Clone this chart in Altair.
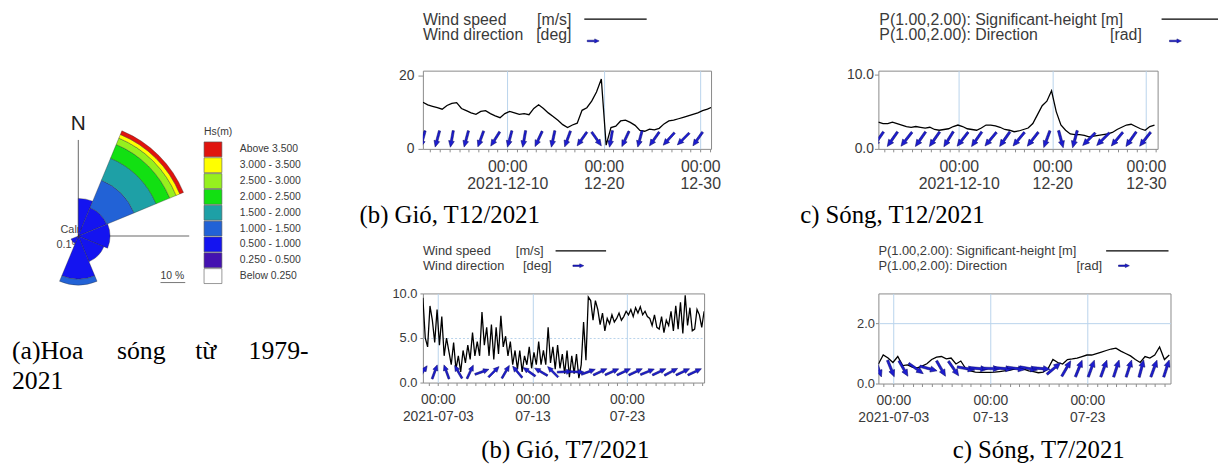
import math
import altair as alt
import pandas as pd

SANS = "Liberation Sans"
SERIF = "Liberation Serif"
TXT = "#3a3a3a"
AXC = "#8c8c8c"
GRID = "#b9d3ec"
BLUE = "#1d1dd0"
BLUE_EDGE = "#08086a"
ARROW = "M-0.13,1L0.13,1L0.13,-0.25L0.34,-0.25L0,-1L-0.34,-0.25L-0.13,-0.25Z"

# ---------------- (a) wave rose data ----------------
hs_bands = ["Above  3.500", "3.000 - 3.500", "2.500 - 3.000", "2.000 - 2.500",
            "1.500 - 2.000", "1.000 - 1.500", "0.500 - 1.000", "0.250 - 0.500", "Below  0.250"]
hs_colors = ["#e0140e", "#ffff00", "#96f01e", "#12e012", "#1ea0a6",
             "#2262d6", "#1414f0", "#4412b0", "#ffffff"]
rose_from = [0.0, 22.5, 67.5, 112.5, 157.5, 202.5]
rose_to = [22.5, 67.5, 112.5, 157.5, 202.5, 247.5]
# frequency (%) per Hs band, from "Below 0.250" upward
rose_freq = [
    [0.0, 0.4, 14.8, 0.0, 0.0, 0.0, 0.0, 0.0, 0.0],
    [0.0, 0.4, 12.0, 12.0, 9.6, 6.0, 2.8, 1.6, 1.6],
    [0.0, 0.4, 12.4, 0.0, 0.0, 0.0, 0.0, 0.0, 0.0],
    [0.0, 0.4, 10.8, 0.0, 0.0, 0.0, 0.0, 0.0, 0.0],
    [0.0, 0.8, 16.6, 2.4, 0.0, 0.0, 0.0, 0.0, 0.0],
    [0.0, 0.4, 2.8, 0.0, 0.0, 0.0, 0.0, 0.0, 0.0],
]
calm_text = ["Calm", "0.1%"]
rose_title = "Hs(m)"
rose_scale_label = "10 %"
rose_caption_words = ["(a)Hoa", "sóng", "từ", "1979-"]
rose_caption_line2 = "2021"

# ---------------- time series data ----------------
wind12_start = "2021-12-01 06:00"
wind12_speed = [12.7, 12.0, 11.6, 11.2, 10.8, 11.8, 12.4, 12.6, 11.0, 10.4,
                9.8, 9.4, 10.2, 10.4, 9.6, 9.0, 8.5, 9.6, 10.2, 9.8,
                9.4, 9.6, 9.3, 11.0, 12.0, 11.0, 9.8, 8.8, 7.8, 6.6,
                5.8, 6.5, 7.0, 10.5, 11.2, 13.0, 15.5, 19.0, 1.0, 5.8,
                6.2, 7.6, 7.8, 7.2, 6.4, 5.0, 4.8, 5.4, 5.2, 5.6,
                6.8, 7.6, 7.8, 8.2, 8.6, 9.0, 9.4, 9.8, 10.4, 10.8, 11.4]
wind12_dir = [195, 195, 190, 195, 200, 212, 195, 190, 205, 192,
              200, 215, 145, 190, 205, 195, 215, 222, 225, 215]

wave12_start = "2021-12-01 10:00"
wave12_hs = [3.6, 3.4, 3.4, 3.6, 3.4, 3.2, 3.0, 2.9, 3.0, 2.9,
             2.8, 2.9, 2.6, 2.5, 2.6, 2.7, 3.0, 3.2, 3.0, 2.7,
             2.6, 2.5, 2.8, 3.2, 3.2, 3.1, 2.9, 2.6, 2.5, 2.3,
             2.4, 2.6, 2.8, 3.4, 4.6, 5.8, 6.4, 7.8, 5.0, 3.2,
             2.5, 2.0, 1.9, 1.9, 1.8, 1.6, 1.7, 1.8, 1.9, 2.0,
             2.2, 2.6, 2.9, 3.2, 3.3, 3.0, 2.7, 2.5, 3.0, 3.2]
wave12_dir = [215, 215, 218, 215, 215, 212, 218, 215, 220, 215,
              220, 218, 200, 165, 195, 225, 225, 220, 215, 218]

wind7_start = "2021-07-01 10:00"
wind7_speed = [9.5, 5.0, 4.0, 8.6, 7.0, 4.5, 8.2, 4.2, 7.4, 3.0, 5.0, 3.5,
               2.0, 4.5, 1.5, 3.0, 1.2, 3.6, 2.2, 4.2, 2.6, 5.6, 3.0, 4.6,
               3.0, 7.9, 4.2, 6.2, 3.0, 6.5, 2.6, 6.2, 3.2, 7.5, 4.0, 5.2,
               3.0, 4.6, 2.0, 3.6, 1.5, 3.6, 1.2, 3.0, 2.0, 4.0, 1.6, 3.4,
               2.0, 4.6, 2.0, 3.6, 2.0, 6.2, 2.2, 4.0, 1.5, 4.2, 1.6, 3.2,
               1.0, 3.6, 0.6, 3.0, 1.0, 3.2, 0.5, 2.0, 6.8, 2.5, 9.6, 9.2,
               7.0, 9.2, 8.2, 6.5, 7.8, 5.8, 7.2, 6.6, 7.6, 6.8, 7.2, 7.8,
               7.0, 7.4, 8.0, 7.6, 8.2, 7.4, 8.4, 7.8, 8.5, 7.6, 8.0, 7.4,
               7.2, 6.4, 7.6, 6.2, 6.0, 7.4, 5.6, 7.0, 6.4, 8.0, 5.8, 8.6,
               6.0, 9.0, 5.5, 9.8, 6.4, 8.4, 5.8, 6.0, 8.2, 7.6, 6.2, 8.0]
wind7_dir = [35, 20, 340, 330, 25, 70, 45, 30, 320, 305, 300, 315,
             88, 92, 70, 65, 66, 65, 65, 68, 65, 62, 65, 65]

wave7_start = "2021-07-01 11:00"
wave7_hs = [0.65, 0.95, 0.85, 0.7, 0.9, 0.6, 0.62, 0.55, 0.52, 0.58,
            0.66, 0.8, 0.88, 0.9, 0.82, 0.85, 0.65, 0.75, 0.5, 0.42,
            0.38, 0.37, 0.37, 0.37, 0.38, 0.4, 0.42, 0.44, 0.48, 0.52,
            0.48, 0.42, 0.4, 0.36, 0.38, 0.5, 0.8, 0.7, 0.65, 0.8,
            0.82, 0.85, 0.9, 0.95, 0.95, 1.0, 1.05, 1.1, 1.15, 1.18,
            1.08, 1.0, 0.92, 0.8, 0.7, 0.9, 0.85, 0.95, 1.22, 0.8, 0.95]
wave7_dir = [160, 158, 150, 125, 105, 150, 145, 100, 95, 92, 95, 98,
             100, 95, 50, 30, 22, 20, 20, 18, 18, 15, 20, 18]

wind_legend = ["Wind speed", "[m/s]", "Wind direction", "[deg]"]
wave_legend = ["P(1.00,2.00): Significant-height [m]", "P(1.00,2.00): Direction", "[rad]"]
captions = ["(b) Gió, T12/2021", "c) Sóng, T12/2021", "(b) Gió, T7/2021", "c) Sóng, T7/2021"]


# ---------------- helpers ----------------
def one():
    return pd.DataFrame({"k": [0]})


def txt(s, x, y, size, align="left", font=SANS, color=TXT, baseline="alphabetic"):
    return alt.Chart(pd.DataFrame({"s": [s]})).mark_text(
        align=align, baseline=baseline, font=font, fontSize=size, color=color
    ).encode(x=alt.value(x), y=alt.value(y), text="s:N")


def rule(x1, x2, y1, y2, color="black", width=1.0, opacity=1.0):
    return alt.Chart(one()).mark_rule(color=color, strokeWidth=width, strokeOpacity=opacity).encode(
        x=alt.value(x1), x2=alt.value(x2), y=alt.value(y1), y2=alt.value(y2))


def arrow_sample(x, y, length):
    return alt.Chart(one()).mark_point(
        shape=ARROW, filled=True, size=length * length, angle=90, fill=BLUE,
        stroke=BLUE_EDGE, strokeWidth=0.5, opacity=1
    ).encode(x=alt.value(x), y=alt.value(y))


def spacer(w):
    return alt.Chart(one()).mark_point(opacity=0).encode(
        x=alt.value(0), y=alt.value(0)).properties(
        width=w, height=1, view=alt.ViewBackground(stroke="transparent"))


def time_axis(month, label_days, year_day, size, pad):
    vals = [alt.DateTime(year=2021, month=month, date=d) for d in range(2, 32)]
    cond = " || ".join(f"date(datum.value) == {d}" for d in label_days)
    expr = (f"date(datum.value) == {year_day} ? ['00:00', timeFormat(datum.value, '%Y-%m-%d')] : "
            f"(({cond}) ? ['00:00', timeFormat(datum.value, '%m-%d')] : '')")
    return alt.Axis(values=vals, tickCount=60, labelExpr=expr, labelFont=SANS, labelFontSize=size,
                    labelColor=TXT, labelLineHeight=17, labelPadding=pad, labelOverlap=False,
                    labelFlush=False, tickSize=3, tickColor=AXC, domain=False, grid=True,
                    gridColor=GRID,
                    gridOpacity={"condition": {"test": cond, "value": 1}, "value": 0}, title=None)


def value_axis(vals, fmt, size, tick, pad, grid_at=None, dash=None):
    kw = dict(values=vals, format=fmt, labelFont=SANS, labelFontSize=size, labelColor=TXT,
              tickSize=tick, tickColor=AXC, labelPadding=pad, domain=False, title=None)
    if grid_at is None:
        kw["grid"] = False
    else:
        kw["grid"] = True
        kw["gridColor"] = GRID
        kw["gridOpacity"] = {"condition": {"test": f"datum.value == {grid_at}", "value": 1}, "value": 0}
        if dash:
            kw["gridDash"] = dash
    return alt.Axis(**kw)


def ts_layers(start, step, values, dir_step, dirs, level, alen, xdom, ydom, xaxis, yaxis):
    t = pd.date_range(start, periods=len(values), freq=step).strftime("%Y-%m-%dT%H:%M:%S")
    df = pd.DataFrame({"t": list(t), "v": values})
    ta = pd.date_range(start, periods=len(dirs), freq=dir_step).strftime("%Y-%m-%dT%H:%M:%S")
    adf = pd.DataFrame({"t": list(ta), "a": dirs})
    xs = alt.Scale(domain=xdom)
    ys = alt.Scale(domain=ydom, nice=False, zero=True)
    line = alt.Chart(df).mark_line(color="black", strokeWidth=1.3, clip=True).encode(
        x=alt.X("t:T", scale=xs, axis=xaxis, title=None),
        y=alt.Y("v:Q", scale=ys, axis=yaxis, title=None))
    arrows = alt.Chart(adf).mark_point(
        shape=ARROW, filled=True, size=alen * alen, fill=BLUE, stroke=BLUE_EDGE,
        strokeWidth=0.5, opacity=1, clip=True
    ).encode(x=alt.X("t:T"), y=alt.datum(level), angle=alt.Angle("a:Q", scale=None))
    return [line, arrows]


def dt(month, day, hour):
    return alt.DateTime(year=2021, month=month, date=day, hours=hour)


FRAME = alt.ViewBackground(stroke="#8a8a8a", strokeWidth=1, fill="white")

# ---------------- (a) rose panel ----------------
rose_rows = []
for a0, a1, fr in zip(rose_from, rose_to, rose_freq):
    c = 0.0
    for b, f in zip(hs_bands[::-1], fr):
        if f > 0:
            rose_rows.append(dict(a0=math.radians(a0), a1=math.radians(a1), r0=c, r1=c + f, band=b))
            c += f
rose_df = pd.DataFrame(rose_rows)
legend_df = pd.DataFrame({"band": hs_bands})
color_scale = alt.Scale(domain=hs_bands, range=hs_colors)
band_y = alt.Scale(domain=hs_bands, range=[72, 215], paddingInner=0.06, paddingOuter=0)

arcs = alt.Chart(rose_df).mark_arc(stroke="#2a2a2a", strokeWidth=0.35).encode(
    x=alt.value(67), y=alt.value(167),
    theta=alt.Theta("a0:Q", scale=None, stack=False), theta2="a1:Q",
    radius=alt.Radius("r0:Q", scale=alt.Scale(type="linear", domain=[0, 10], range=[0, 25])),
    radius2="r1:Q",
    color=alt.Color("band:N", scale=color_scale, legend=None))
swatches = alt.Chart(legend_df).mark_rect(stroke="#555555", strokeWidth=0.6).encode(
    x=alt.value(194), x2=alt.value(212),
    y=alt.Y("band:N", scale=band_y, axis=None),
    color=alt.Color("band:N", scale=color_scale, legend=None))
sw_labels = alt.Chart(legend_df).mark_text(
    align="left", baseline="middle", font=SANS, fontSize=10.5, color=TXT).encode(
    x=alt.value(230), y=alt.Y("band:N", scale=band_y, axis=None), text="band:N")

rose_layers = [
    rule(0, 0, -60, 0, opacity=0),
    rule(67, 67, 70, 167, color="#666666", width=1),
    rule(67, 179, 167, 167, color="#666666", width=1),
    txt(calm_text[0], 49, 164, 11, color="#444444"),
    txt(calm_text[1], 45, 179, 11, color="#444444"),
    arcs,
    txt("N", 67, 60, 21, align="center", color="#222222"),
    txt(rose_title, 194, 65, 10.5),
    swatches, sw_labels,
    txt(rose_scale_label, 150, 210, 10.5),
    rule(150, 175, 214, 214, color="#555555", width=0.8),
    txt(rose_caption_words[0], 0, 291, 26, font=SERIF, color="black"),
    txt(rose_caption_words[1], 106, 291, 26, font=SERIF, color="black"),
    txt(rose_caption_words[2], 185, 291, 26, font=SERIF, color="black"),
    txt(rose_caption_words[3], 239, 291, 26, font=SERIF, color="black"),
    txt(rose_caption_line2, 0, 322, 26, font=SERIF, color="black"),
]
rose = alt.layer(*rose_layers).properties(
    width=404, height=79, view=alt.ViewBackground(stroke="transparent"))

# ---------------- (b) wind Dec ----------------
wind12 = alt.layer(
    *ts_layers(wind12_start, "12h", wind12_speed, "36h", wind12_dir, 2.7, 17,
               [dt(12, 1, 6), dt(12, 31, 3)], [0, 21.3],
               time_axis(12, [10, 20, 30], 10, 16, 7),
               value_axis([0, 20], "d", 14, 5, 4)),
    txt(wind_legend[0], 0, -46, 16), txt(wind_legend[1], 150, -46, 16, align="right"),
    txt(wind_legend[2], 0, -31, 16), txt(wind_legend[3], 150, -31, 16, align="right"),
    rule(163, 226, -52, -52, width=1.2),
    arrow_sample(172, -30, 12),
    txt(captions[0], -64, 154, 25, font=SERIF, color="black"),
).properties(width=291, height=79, view=FRAME)

# ---------------- (c) wave Dec ----------------
wave12 = alt.layer(
    *ts_layers(wave12_start, "12h", wave12_hs, "36h", wave12_dir, 1.3, 18,
               [dt(12, 1, 10), dt(12, 31, 6)], [0, 10.5],
               time_axis(12, [10, 20, 30], 10, 16, 7),
               value_axis([0, 10], ".1f", 14, 4, 1)),
    txt(wave_legend[0], 1, -46, 16),
    txt(wave_legend[1], 1, -31, 16), txt(wave_legend[2], 266, -31, 16, align="right"),
    rule(286, 343, -52, -52, width=1.2),
    arrow_sample(300, -30, 12),
    txt(captions[1], -79, 154, 25, font=SERIF, color="black"),
).properties(width=282, height=79, view=FRAME)

# ---------------- (b) wind Jul ----------------
wind7 = alt.layer(
    *ts_layers(wind7_start, "6h", wind7_speed, "30h", wind7_dir, 1.2, 15,
               [dt(7, 1, 10), dt(7, 31, 4)], [0, 10],
               time_axis(7, [3, 13, 23], 3, 14, 7),
               value_axis([0, 5, 10], ".1f", 13, 3, 3, grid_at=5, dash=[2, 2])),
    txt(wind_legend[0], 0, -39, 13), txt(wind_legend[1], 122, -39, 13, align="right"),
    txt(wind_legend[2], 0, -24, 13), txt(wind_legend[3], 130, -24, 13, align="right"),
    rule(134, 185, -43, -43, width=1.2),
    arrow_sample(157, -28, 11),
    txt(captions[2], 59, 166, 25, font=SERIF, color="black"),
).properties(width=284, height=90, view=FRAME)

# ---------------- (c) wave Jul ----------------
wave7 = alt.layer(
    *ts_layers(wave7_start, "12h", wave7_hs, "31h", wave7_dir, 0.5, 18,
               [dt(7, 1, 11), dt(7, 31, 14)], [0, 3],
               time_axis(7, [3, 13, 23], 3, 14, 7),
               value_axis([0, 2], ".1f", 13, 3, 1, grid_at=2)),
    txt(wave_legend[0], 0, -39, 13),
    txt(wave_legend[1], 0, -24, 13), txt(wave_legend[2], 226, -24, 13, align="right"),
    rule(230, 293, -43, -43, width=1.2),
    arrow_sample(248, -28, 11),
    txt(captions[3], 75, 166, 25, font=SERIF, color="black"),
).properties(width=295, height=91, view=FRAME)

chart = alt.concat(
    rose, wind12, spacer(149), wave12,
    spacer(405), wind7, spacer(140), wave7,
    columns=4,
    spacing={"row": 146, "column": 10},
    bounds="flush",
    align={"row": "each", "column": "none"},
).properties(padding=0).configure_view(stroke="transparent")

chart.save("out.html", embed_options={"renderer": "svg", "actions": False})
